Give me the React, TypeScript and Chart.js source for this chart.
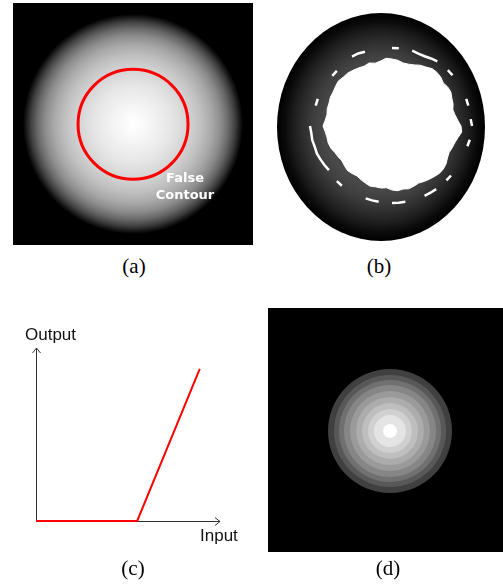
import React, { useEffect, useRef } from "react";
import { Chart, registerables } from "chart.js";

Chart.register(...registerables);

// ---------- (a) smooth glow with the false-contour circle ----------
const glowPoint = [{ x: 0, y: 0, r: 110 }];
const contourPoint = [{ x: 0.5, y: -2.5, r: 55 }];
const glowFractions = [0, 0.06, 0.2, 0.35, 0.5, 0.62, 0.72, 0.8, 0.87, 0.93, 0.97, 1];
const glowLevels = [255, 252, 242, 230, 212, 192, 168, 140, 104, 62, 26, 0];

// ---------- (b) thresholded result: blob + broken ring ----------
const angleLabels = Array.from({ length: 72 }, (_, i) => `${i * 5}°`);
const blobRadius = [
  67, 66, 64, 64, 65, 67, 68, 70, 70, 69, 67, 68,
  68, 66, 65, 63, 64, 66, 69, 70, 67, 65, 64, 63,
  64, 66, 67, 67, 66, 65, 64, 63, 64, 65, 64, 65,
  64, 62, 63, 63, 64, 63, 62, 61, 62, 63, 62, 61,
  62, 63, 65, 66, 66, 67, 69, 67, 66, 67, 67, 68,
  68, 69, 70, 69, 69, 68, 67, 66, 67, 65, 66, 68,
];
const N = null;
const fragmentRadius = [
  78, 78, N, 78, 77, 77, 78, 79, N, 79, 79, N,
  N, N, 79, 79, N, 79, 80, N, 79, 78, N, N,
  N, N, 77, 77, N, 77, 77, 77, N, N, 77, 77,
  77, N, 77, 77, 77, N, N, N, 78, 78, N, 77,
  78, 79, 80, 80, 81, 81, 82, N, N, 79, 79, N,
  N, N, 78, 78, N, N, 80, 80, 79, N, N, N,
];
const diskRadii = [104, 114];
const diskFractions = [0, 0.55, 0.65, 0.75, 0.85, 0.93, 1];
const diskLevels = [80, 72, 62, 46, 28, 10, 0];

// ---------- (c) transfer function ----------
const inputValues = [0, 5.5, 8.9];
const outputValues = [0, 0, 8.8];

// ---------- (d) quantised output ----------
const bandRadii = [7, 16, 22, 28, 34, 40, 46, 51, 56, 62];
const bandLevels = [255, 228, 208, 190, 172, 154, 134, 112, 88, 64];

const gray = (v: number) => `rgb(${v},${v},${v})`;

const blackBackground = {
  id: "blackBackground",
  beforeDraw(chart: any) {
    const ctx = chart.ctx;
    ctx.save();
    ctx.fillStyle = "#000";
    ctx.fillRect(0, 0, chart.width, chart.height);
    ctx.restore();
  },
};

const noPlugins = { legend: { display: false }, tooltip: { enabled: false } };

const hiddenR = {
  min: 0,
  max: 100,
  display: false,
  ticks: { display: false },
  pointLabels: { display: false },
  grid: { display: false },
  angleLines: { display: false },
};

function configA(): any {
  const glowFill = (ctx: any) => {
    const chart = ctx.chart;
    const raw = ctx.raw;
    if (!raw || !chart.chartArea) return "#000";
    const cx = chart.scales.x.getPixelForValue(raw.x);
    const cy = chart.scales.y.getPixelForValue(raw.y);
    const g = chart.ctx.createRadialGradient(cx, cy, 0, cx, cy, raw.r);
    glowFractions.forEach((f, i) => g.addColorStop(f, gray(glowLevels[i])));
    return g;
  };
  return {
    type: "bubble",
    data: {
      datasets: [
        {
          data: contourPoint,
          backgroundColor: "rgba(0,0,0,0)",
          borderColor: "#ff0000",
          borderWidth: 3,
          clip: false,
        },
        { data: glowPoint, backgroundColor: glowFill, borderWidth: 0, clip: false },
      ],
    },
    options: {
      responsive: false,
      animation: false,
      events: [],
      layout: { padding: { left: 20, right: 20, top: 21, bottom: 21 } },
      scales: {
        x: { type: "linear", min: -100, max: 100, display: false },
        y: { type: "linear", min: -100, max: 100, display: false },
      },
      plugins: noPlugins,
    },
    plugins: [blackBackground],
  };
}

function configB(): any {
  const diskPlugin = {
    id: "disk",
    beforeDatasetsDraw(chart: any) {
      const sc = chart.scales.r;
      const ctx = chart.ctx;
      const cx = sc.xCenter - 11;
      const cy = sc.yCenter + 1;
      const rx = sc.getDistanceFromCenterForValue(diskRadii[0]);
      const ry = sc.getDistanceFromCenterForValue(diskRadii[1]);
      ctx.save();
      ctx.translate(cx, cy);
      ctx.scale(1, ry / rx);
      const g = ctx.createRadialGradient(0, 0, 0, 0, 0, rx);
      diskFractions.forEach((f, i) => g.addColorStop(f, gray(diskLevels[i])));
      ctx.fillStyle = g;
      ctx.beginPath();
      ctx.arc(0, 0, rx, 0, Math.PI * 2);
      ctx.fill();
      ctx.restore();
    },
  };
  return {
    type: "radar",
    data: {
      labels: angleLabels,
      datasets: [
        {
          data: fragmentRadius,
          borderColor: "#ffffff",
          borderWidth: 2.5,
          fill: false,
          pointRadius: 0,
          tension: 0,
          spanGaps: false,
        },
        {
          data: blobRadius,
          borderColor: "#ffffff",
          backgroundColor: "#ffffff",
          borderWidth: 1,
          fill: true,
          pointRadius: 0,
          tension: 0,
        },
      ],
    },
    options: {
      responsive: false,
      animation: false,
      events: [],
      layout: { padding: { left: 36, right: 11, top: 26, bottom: 24 } },
      scales: { r: hiddenR },
      plugins: noPlugins,
    },
    plugins: [diskPlugin],
  };
}

function configC(): any {
  const axesPlugin = {
    id: "arrowAxes",
    beforeDatasetsDraw(chart: any) {
      const { x, y } = chart.scales;
      const ctx = chart.ctx;
      const x0 = Math.round(x.getPixelForValue(0)) + 0.5;
      const x1 = x.getPixelForValue(10);
      const y0 = Math.round(y.getPixelForValue(0)) + 0.5;
      const y1 = y.getPixelForValue(10);
      ctx.save();
      ctx.strokeStyle = "#333";
      ctx.lineWidth = 1;
      ctx.beginPath();
      ctx.moveTo(x0, y0);
      ctx.lineTo(x1, y0);
      ctx.moveTo(x1 - 5, y0 - 4);
      ctx.lineTo(x1, y0);
      ctx.lineTo(x1 - 5, y0 + 4);
      ctx.moveTo(x0, y0);
      ctx.lineTo(x0, y1);
      ctx.moveTo(x0 - 4, y1 + 5);
      ctx.lineTo(x0, y1);
      ctx.lineTo(x0 + 4, y1 + 5);
      ctx.stroke();
      ctx.restore();
    },
  };
  return {
    type: "scatter",
    data: {
      datasets: [
        {
          data: inputValues.map((v, i) => ({ x: v, y: outputValues[i] })),
          showLine: true,
          borderColor: "#ff0000",
          borderWidth: 2,
          pointRadius: 0,
          tension: 0,
          clip: false,
        },
      ],
    },
    options: {
      responsive: false,
      animation: false,
      events: [],
      layout: { padding: { left: 36, right: 38, top: 58, bottom: 39 } },
      scales: {
        x: { type: "linear", min: 0, max: 10, display: false },
        y: { type: "linear", min: 0, max: 10, display: false },
      },
      plugins: noPlugins,
    },
    plugins: [axesPlugin],
  };
}

function configD(): any {
  return {
    type: "polarArea",
    data: {
      labels: ["level"],
      datasets: bandRadii.map((r, i) => ({
        data: [r],
        backgroundColor: gray(bandLevels[i]),
        borderWidth: 0,
      })),
    },
    options: {
      responsive: false,
      animation: false,
      events: [],
      layout: { padding: { left: 22, right: 13, top: 23, bottom: 21 } },
      scales: { r: hiddenR },
      plugins: noPlugins,
    },
    plugins: [blackBackground],
  };
}

function Panel(props: { left: number; top: number; width: number; height: number; make: () => any }) {
  const ref = useRef<HTMLCanvasElement>(null);
  useEffect(() => {
    const chart = new Chart(ref.current as HTMLCanvasElement, props.make());
    return () => chart.destroy();
  }, []);
  return (
    <canvas
      ref={ref}
      width={props.width}
      height={props.height}
      style={{
        position: "absolute",
        left: props.left,
        top: props.top,
        width: props.width,
        height: props.height,
        display: "block",
      }}
    />
  );
}

const serif = "'Liberation Serif', 'Times New Roman', serif";
const sans = "'Liberation Sans', Arial, sans-serif";
const verdana = "'DejaVu Sans', Verdana, sans-serif";

function Label(props: {
  text: string;
  cx?: number;
  left?: number;
  top: number;
  size: number;
  family: string;
  color?: string;
  bold?: boolean;
}) {
  const centered = props.cx !== undefined;
  return (
    <div
      style={{
        position: "absolute",
        left: centered ? (props.cx as number) - 60 : props.left,
        width: centered ? 120 : undefined,
        textAlign: centered ? "center" : "left",
        top: props.top,
        fontFamily: props.family,
        fontSize: props.size,
        lineHeight: `${props.size}px`,
        fontWeight: props.bold ? "bold" : "normal",
        color: props.color || "#000",
        whiteSpace: "nowrap",
      }}
    >
      {props.text}
    </div>
  );
}

export default function App() {
  return (
    <div
      style={{
        position: "absolute",
        left: 0,
        top: 0,
        width: 503,
        height: 585,
        background: "#fff",
        overflow: "hidden",
      }}
    >
      <Panel left={13} top={3} width={240} height={242} make={configA} />
      <Panel left={256} top={0} width={247} height={250} make={configB} />
      <Panel left={0} top={290} width={258} height={270} make={configC} />
      <Panel left={268} top={308} width={235} height={244} make={configD} />

      <Label text="False" cx={185} top={171} size={13} family={verdana} color="#fff" bold />
      <Label text="Contour" cx={185} top={188} size={13} family={verdana} color="#fff" bold />

      <Label text="Output" left={25} top={326} size={17} family={sans} color="#111" />
      <Label text="Input" left={200} top={527} size={17} family={sans} color="#111" />

      <Label text="(a)" cx={134} top={256} size={21} family={serif} />
      <Label text="(b)" cx={379} top={256} size={21} family={serif} />
      <Label text="(c)" cx={133} top={558} size={21} family={serif} />
      <Label text="(d)" cx={388} top={558} size={21} family={serif} />
    </div>
  );
}
